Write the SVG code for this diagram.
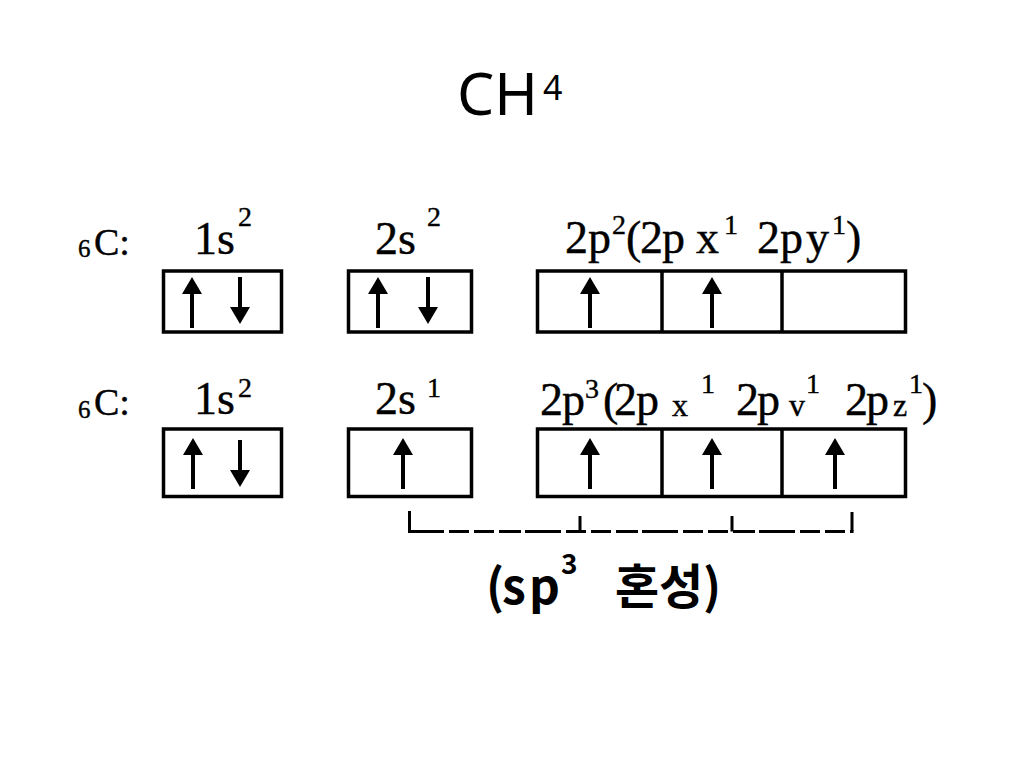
<svg xmlns="http://www.w3.org/2000/svg" width="1024" height="768" viewBox="0 0 1024 768">
<style>
.title{font-family:"Noto Sans","Open Sans",sans-serif;fill:#000}
.lbl{font-family:"Liberation Serif","DejaVu Serif",serif;fill:#000;font-size:46px;stroke:#000;stroke-width:0.4}
.sup{font-size:28px}
.sm{font-size:32px}
.c{font-size:38px}
.sub{font-size:25px}
.box{fill:#fff;stroke:#000;stroke-width:3.5}
.div{stroke:#000;stroke-width:3.5}
.hy{font-family:"Noto Sans CJK KR","Noto Sans",sans-serif;font-weight:bold;font-size:48px;fill:#000}
.br{stroke:#000;stroke-width:3;fill:none}
</style>
<defs>
<path id="up" d="M0 0 L10 17 L2 17 L2 51 L-2 51 L-2 17 L-10 17 Z" fill="#000"/>
<path id="dn" d="M-2 0 L2 0 L2 30 L10 30 L0 47 L-10 30 L-2 30 Z" fill="#000"/>
</defs>
<rect width="1024" height="768" fill="#fff"/>
<text class="title" x="457" y="115" font-size="59">CH</text>
<text class="title" x="543" y="100" font-size="34">4</text>

<g id="row1-labels">
<text class="lbl"><tspan class="sub" x="78" y="257">6</tspan><tspan class="c" x="94" y="255">C:</tspan></text>
<text class="lbl"><tspan x="194" y="254">1s</tspan><tspan class="sup" x="238" y="226">2</tspan></text>
<text class="lbl"><tspan x="375 398" y="254">2s</tspan><tspan class="sup" x="427" y="226">2</tspan></text>
<text class="lbl"><tspan x="565 588" y="253">2p</tspan><tspan class="sup" x="612" y="234">2</tspan><tspan x="626 640 662 696" y="253">(2px</tspan><tspan class="sup" x="724" y="234">1</tspan><tspan x="757 780 806" y="253">2py</tspan><tspan class="sup" x="832" y="234">1</tspan><tspan x="846" y="253">)</tspan></text>
</g>

<g id="row2-labels">
<text class="lbl"><tspan class="sub" x="78" y="418">6</tspan><tspan class="c" x="94" y="415">C:</tspan></text>
<text class="lbl"><tspan x="194" y="414">1s</tspan><tspan class="sup" x="238" y="397">2</tspan></text>
<text class="lbl"><tspan x="375 398" y="414">2s</tspan><tspan class="sup" x="427" y="397">1</tspan></text>
<text class="lbl"><tspan x="540 562" y="415">2p</tspan><tspan class="sup" x="585" y="398">3</tspan><tspan x="603 614 636" y="415">(2p</tspan><tspan class="sm" x="672" y="416">x</tspan><tspan class="sup" x="701" y="393">1</tspan><tspan x="736 757" y="415">2p</tspan><tspan class="sm" x="789" y="416">v</tspan><tspan class="sup" x="806" y="393">1</tspan><tspan x="845 866" y="415">2p</tspan><tspan class="sm" x="893" y="416">z</tspan><tspan class="sup" x="909" y="393">1</tspan><tspan x="922" y="415">)</tspan></text>
</g>

<g id="r1-1s">
<rect class="box" x="163.5" y="271" width="118" height="61"/>
<use href="#up" x="192" y="277"/>
<use href="#dn" x="240" y="277"/>
</g>
<g id="r1-2s">
<rect class="box" x="348.5" y="271" width="123" height="61"/>
<use href="#up" x="378" y="277"/>
<use href="#dn" x="428" y="277"/>
</g>
<g id="r1-2p">
<rect class="box" x="537.5" y="271" width="368" height="61"/>
<line class="div" x1="662" y1="271" x2="662" y2="332"/>
<line class="div" x1="782" y1="271" x2="782" y2="332"/>
<use href="#up" x="590" y="277"/>
<use href="#up" x="712" y="277"/>
</g>

<g id="r2-1s">
<rect class="box" x="163.5" y="429" width="118" height="67.5"/>
<use href="#up" x="193" y="438"/>
<use href="#dn" x="240" y="440"/>
</g>
<g id="r2-2s">
<rect class="box" x="348.5" y="429" width="123" height="67.5"/>
<use href="#up" x="403" y="438"/>
</g>
<g id="r2-2p">
<rect class="box" x="537.5" y="429" width="368" height="67.5"/>
<line class="div" x1="662" y1="429" x2="662" y2="496.5"/>
<line class="div" x1="782" y1="429" x2="782" y2="496.5"/>
<use href="#up" x="590" y="438"/>
<use href="#up" x="712" y="438"/>
<use href="#up" x="835" y="438"/>
</g>

<g id="connectors">
<path class="br" d="M409.5 511 V531.5"/>
<path class="br" d="M580 516 V531.5"/>
<path class="br" d="M732 516 V531.5"/>
<path class="br" d="M852 512 V531.5"/>
<path class="br" d="M408 531.5 H853.5" stroke-dasharray="36 5 20 5 20 5 22 4"/>
</g>

<g id="hybrid-label">
<text class="hy"><tspan x="486 502 529" y="604">(sp</tspan><tspan x="561" y="574" font-size="28">3</tspan><tspan x="615 659 703" y="604">혼성)</tspan></text>
</g>
</svg>
